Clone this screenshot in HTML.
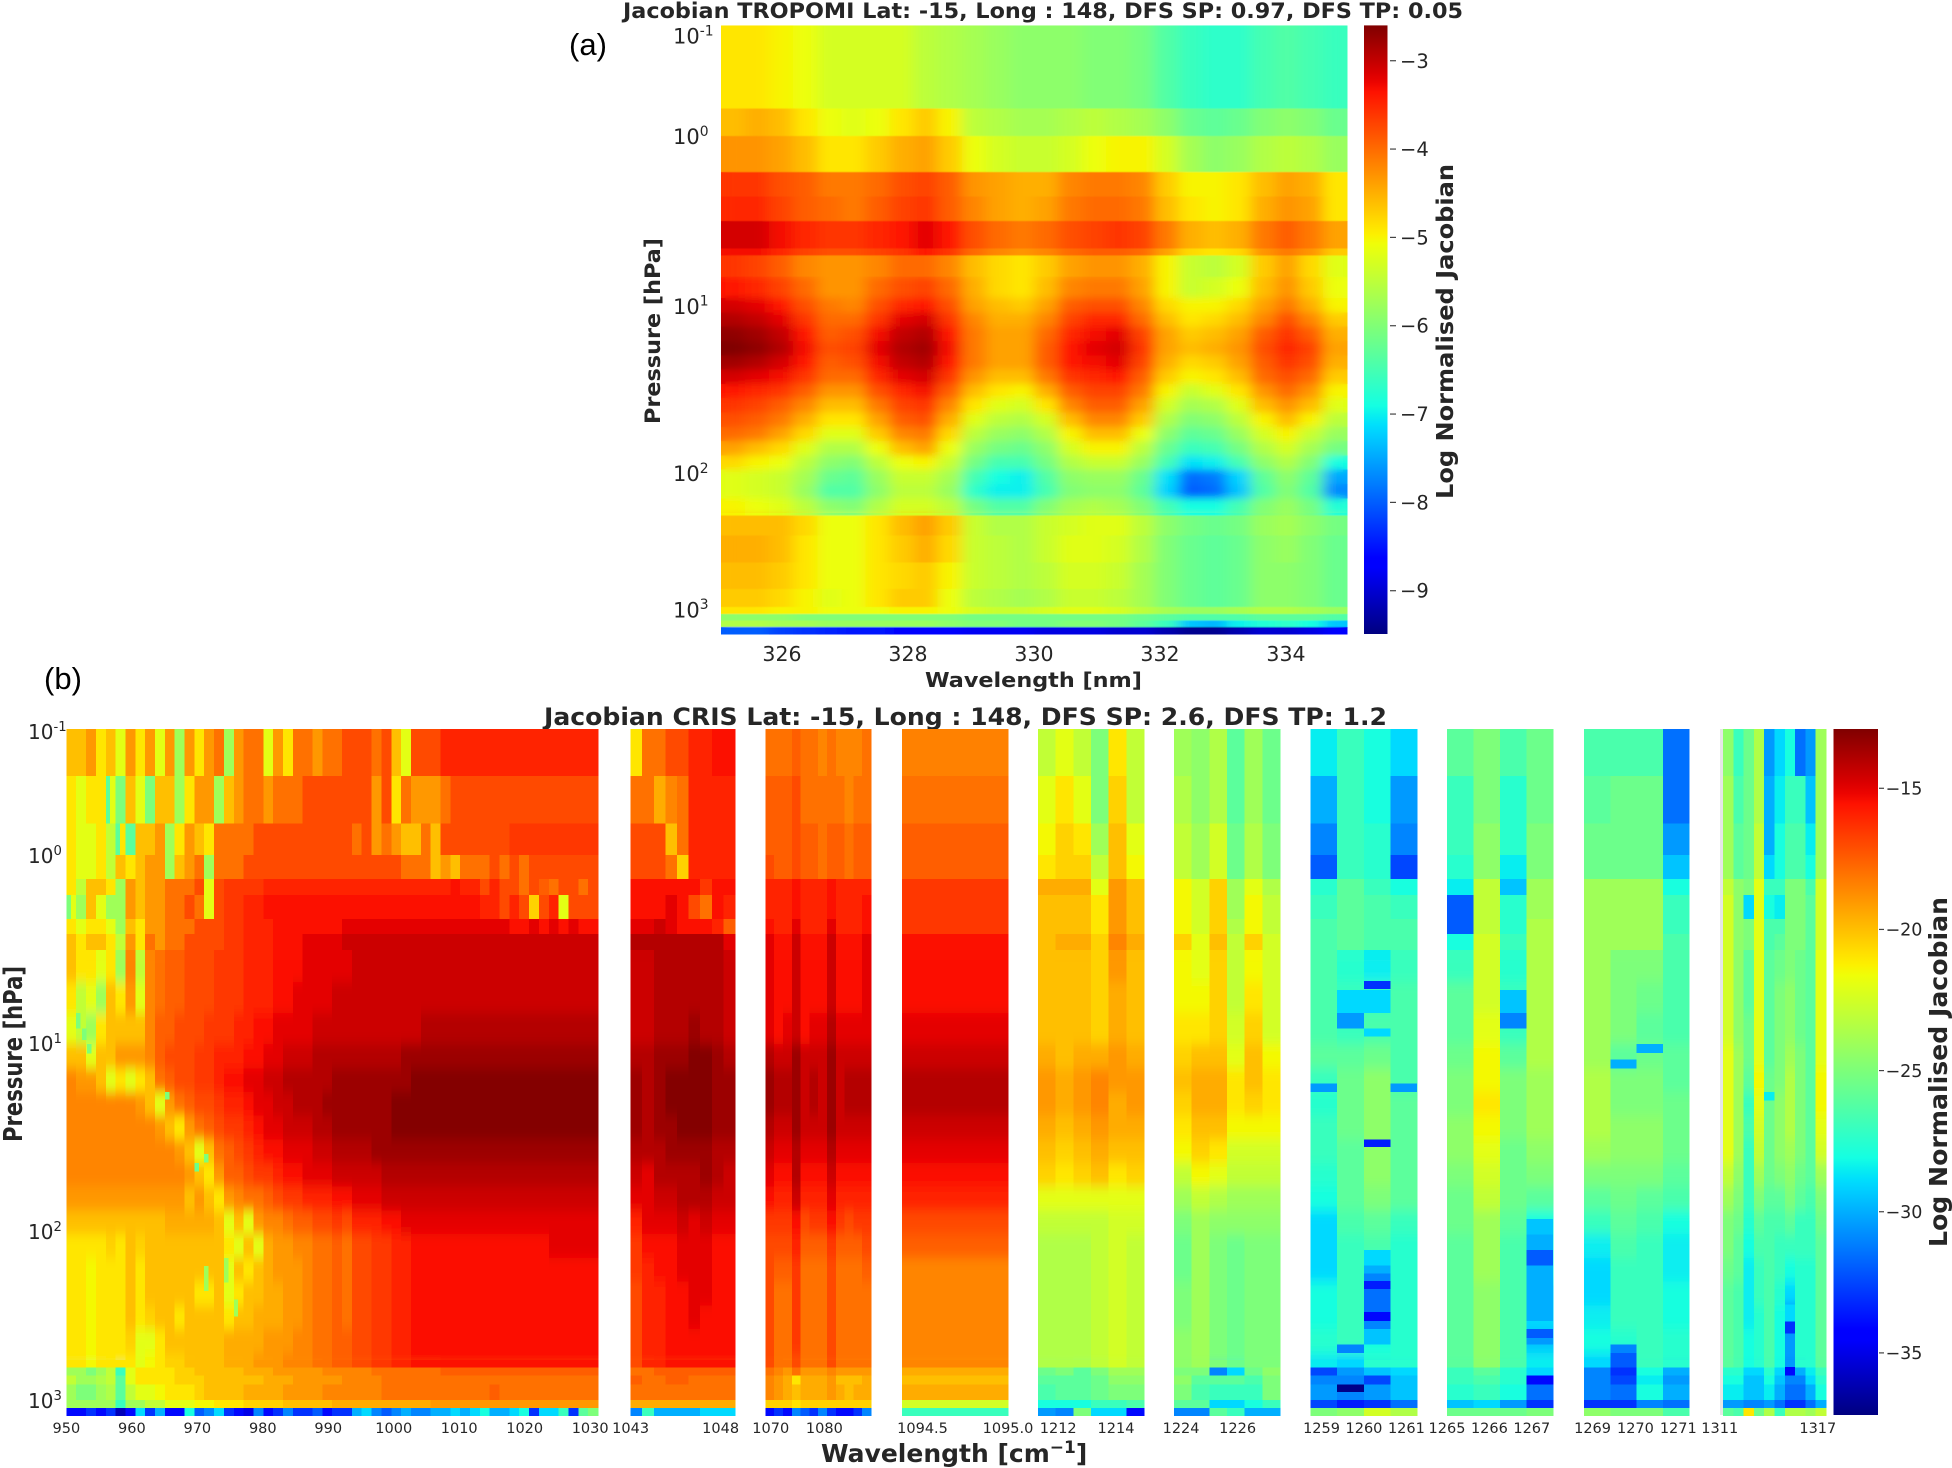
<!DOCTYPE html>
<html lang="en">
<head>
<meta charset="utf-8">
<title>Jacobian TROPOMI and CRIS heatmaps</title>
<style>
html,body{margin:0;padding:0;background:#fff}
svg{display:block}
text{font-family:"DejaVu Sans","Liberation Sans",sans-serif;fill:#262626}
.b{font-weight:700}
</style>
</head>
<body>
<svg id="fig" xmlns="http://www.w3.org/2000/svg" width="1952" height="1468" viewBox="0 0 1952 1468">
<defs>
<filter id="smoothWide" x="-5%" y="-5%" width="110%" height="110%"><feGaussianBlur stdDeviation="7 0.6"/></filter>
<filter id="smoothBoth" x="-5%" y="-5%" width="110%" height="110%"><feGaussianBlur stdDeviation="7 4"/></filter>
<filter id="smoothTall" x="-5%" y="-5%" width="110%" height="110%"><feGaussianBlur stdDeviation="0 6"/></filter>
<clipPath id="clipTropomi"><rect x="721" y="25.4" width="626" height="608.6"/></clipPath>
<clipPath id="clipTropomiFine"><rect x="721" y="277" width="626" height="236"/></clipPath>
<clipPath id="clipCrisFine"><rect x="0" y="960" width="1952" height="400"/></clipPath>
</defs>
<rect width="1952" height="1468" fill="#fff"/>
<text x="569" y="55" style="font-family:'Liberation Sans',sans-serif;font-size:31px;fill:#000">(a)</text>
<text x="44" y="689" style="font-family:'Liberation Sans',sans-serif;font-size:31px;fill:#000">(b)</text>
<text class="b" x="623" y="18" font-size="21" textLength="840" lengthAdjust="spacingAndGlyphs">Jacobian TROPOMI Lat: -15, Long : 148, DFS SP: 0.97, DFS TP: 0.05</text>
<text class="b" x="544" y="725" font-size="24" textLength="843" lengthAdjust="spacingAndGlyphs">Jacobian CRIS Lat: -15, Long : 148, DFS SP: 2.6, DFS TP: 1.2</text>
<text class="b" x="925" y="687" font-size="20" textLength="217" lengthAdjust="spacingAndGlyphs">Wavelength [nm]</text>
<text class="b" transform="translate(660,424) rotate(-90)" font-size="21" textLength="186" lengthAdjust="spacingAndGlyphs">Pressure [hPa]</text>
<text class="b" transform="translate(1453,499) rotate(-90)" font-size="23" textLength="335" lengthAdjust="spacingAndGlyphs">Log Normalised Jacobian</text>
<text class="b" x="821" y="1462" font-size="25">Wavelength [cm<tspan dy="-9" font-size="17">−1</tspan><tspan dy="9">]</tspan></text>
<text class="b" transform="translate(22,1142) rotate(-90)" font-size="26" textLength="176" lengthAdjust="spacingAndGlyphs">Pressure [hPa]</text>
<text class="b" transform="translate(1947,1247) rotate(-90)" font-size="25" textLength="350" lengthAdjust="spacingAndGlyphs">Log Normalised Jacobian</text>
<rect x="1720" y="729" width="3" height="686" fill="#e6e6e6"/>
</svg>
<script>
// ---------- shared tick labels ----------
const pressureTickExponents = [-1, 0, 1, 2, 3];
const tropomiWavelengthTicks = [326, 328, 330, 332, 334];
const tropomiColorbarTicks = [-3, -4, -5, -6, -7, -8, -9];
const crisColorbarTicks = [-15, -20, -25, -30, -35];

// ---------- pressure layer edges (log10 hPa) ----------
const tropomiLayerEdges = [-1.102,-0.276,0,0.211,0.355,0.5,0.663,0.703,0.829,0.955,1.04,1.125,1.211,1.296,1.381,1.467,1.552,1.637,1.723,1.808,1.893,1.979,2.079,2.184,2.311,2.459,2.656,2.852,2.984,3.033,3.082,3.131,3.18];
const crisLayerEdges = [-1.025,-0.646,-0.2625,-0.008,0.123,0.208,0.334,0.416,0.501,0.671,0.836,1,1.129,1.255,1.381,1.507,1.633,1.759,1.885,2.012,2.153,2.294,2.434,2.575,2.716,2.801,2.85,2.902,2.994,3.04,3.086];

// ---------- TROPOMI log normalised Jacobian ----------
const tropomiValues = [
[-4.9,-4.9,-5,-5.1,-5.3,-5.3,-5.3,-5.3,-5.5,-5.6,-5.7,-5.8,-5.9,-5.9,-5.9,-6,-6,-6.1,-6.4,-6.6,-6.7,-6.7,-6.5,-6.4,-6.5,-6.6],
[-4.6,-4.5,-4.6,-4.9,-5.1,-5.2,-5.1,-4.9,-4.7,-5,-5.5,-5.6,-5.7,-5.7,-5.6,-5.5,-5.6,-5.7,-5.9,-6.2,-6.3,-6.2,-6,-5.9,-6,-6.2],
[-4.3,-4.3,-4.4,-4.6,-4.9,-4.9,-4.7,-4.5,-4.4,-4.7,-5.1,-5.3,-5.4,-5.4,-5.3,-5.1,-5,-5,-5.3,-5.7,-5.9,-5.8,-5.6,-5.5,-5.6,-5.8],
[-3.6,-3.6,-3.8,-3.9,-4.1,-4.1,-4,-3.8,-3.7,-3.9,-4.3,-4.4,-4.5,-4.5,-4.2,-4.1,-4.1,-4.2,-4.7,-5,-5,-4.9,-4.6,-4.4,-4.5,-4.9],
[-3.5,-3.5,-3.7,-3.9,-4,-4.1,-3.9,-3.7,-3.6,-3.9,-4.2,-4.4,-4.5,-4.4,-4.1,-4,-4,-4.1,-4.6,-4.9,-5,-4.9,-4.5,-4.3,-4.4,-4.9],
[-3.1,-3.1,-3.3,-3.5,-3.6,-3.6,-3.5,-3.4,-3.2,-3.4,-3.8,-4,-4.1,-4,-3.8,-3.7,-3.6,-3.7,-4.1,-4.5,-4.6,-4.5,-4.1,-3.9,-4.1,-4.4],
[-3.3,-3.3,-3.5,-3.7,-3.8,-3.8,-3.7,-3.6,-3.4,-3.6,-4,-4.2,-4.3,-4.2,-4,-3.9,-3.9,-4,-4.4,-4.8,-4.9,-4.8,-4.3,-4.1,-4.3,-4.7],
[-3.6,-3.7,-3.9,-4.2,-4.3,-4.3,-4.2,-4,-4,-4.2,-4.6,-4.8,-4.9,-4.7,-4.4,-4.3,-4.3,-4.5,-5,-5.4,-5.5,-5.3,-4.7,-4.4,-4.8,-5.2],
[-3.4,-3.5,-3.7,-4,-4.3,-4.3,-4,-3.8,-3.7,-4,-4.5,-4.8,-4.9,-4.6,-4.2,-4.1,-4.1,-4.4,-5,-5.4,-5.3,-5.1,-4.6,-4.3,-4.7,-5.1],
[-3.1,-3.2,-3.4,-3.8,-4.1,-4.2,-3.8,-3.5,-3.4,-3.8,-4.4,-4.6,-4.7,-4.4,-3.9,-3.8,-3.8,-4.2,-4.8,-5,-5,-4.8,-4.4,-4.1,-4.5,-5],
[-2.9,-3,-3.2,-3.6,-4,-4,-3.6,-3.2,-3.1,-3.6,-4.2,-4.5,-4.5,-4.2,-3.7,-3.5,-3.5,-4,-4.6,-4.9,-4.8,-4.6,-4.2,-3.8,-4.2,-4.7],
[-2.7,-2.8,-3,-3.4,-3.9,-3.8,-3.3,-3,-2.9,-3.4,-4.1,-4.4,-4.4,-4,-3.5,-3.3,-3.2,-3.7,-4.4,-4.7,-4.6,-4.4,-3.9,-3.6,-3.9,-4.5],
[-2.6,-2.7,-2.9,-3.3,-3.8,-3.7,-3.2,-2.9,-2.8,-3.3,-4.1,-4.4,-4.4,-3.9,-3.4,-3.2,-3.1,-3.6,-4.4,-4.6,-4.5,-4.3,-3.8,-3.5,-3.7,-4.4],
[-2.8,-2.9,-3.1,-3.4,-3.9,-3.8,-3.3,-3,-2.9,-3.4,-4.1,-4.4,-4.4,-3.9,-3.4,-3.3,-3.2,-3.7,-4.5,-4.8,-4.7,-4.4,-3.9,-3.6,-3.8,-4.5],
[-3.1,-3.2,-3.3,-3.6,-4,-4,-3.5,-3.2,-3.1,-3.6,-4.3,-4.6,-4.6,-4.1,-3.6,-3.5,-3.4,-3.9,-4.7,-5,-4.9,-4.6,-4,-3.8,-4,-4.7],
[-3.4,-3.5,-3.6,-3.9,-4.3,-4.3,-3.8,-3.5,-3.3,-3.9,-4.6,-4.9,-5,-4.5,-3.9,-3.7,-3.7,-4.1,-5,-5.4,-5.2,-4.9,-4.3,-4,-4.3,-5],
[-3.6,-3.7,-3.9,-4.2,-4.6,-4.6,-4.1,-3.7,-3.6,-4.2,-4.9,-5.2,-5.3,-4.9,-4.2,-3.9,-3.9,-4.4,-5.3,-5.7,-5.6,-5.2,-4.6,-4.3,-4.6,-5.2],
[-3.8,-3.9,-4.1,-4.5,-4.9,-4.9,-4.4,-3.9,-3.8,-4.5,-5.2,-5.5,-5.6,-5.3,-4.6,-4.2,-4.2,-4.7,-5.6,-6,-5.9,-5.5,-5,-4.6,-5,-5.5],
[-4,-4.1,-4.4,-4.8,-5.2,-5.2,-4.7,-4.2,-4.1,-4.8,-5.5,-5.8,-5.9,-5.6,-5,-4.6,-4.6,-5.1,-5.9,-6.3,-6.2,-5.8,-5.3,-5,-5.4,-5.8],
[-4.4,-4.6,-4.8,-5.2,-5.6,-5.6,-5.1,-4.6,-4.4,-5.1,-5.8,-6.1,-6.2,-5.9,-5.3,-5,-5,-5.5,-6.2,-6.6,-6.5,-6.1,-5.6,-5.3,-5.7,-6.1],
[-4.8,-5,-5.1,-5.5,-5.9,-6,-5.5,-5.1,-5,-5.4,-6.1,-6.5,-6.5,-6.1,-5.6,-5.4,-5.4,-5.8,-6.5,-7.1,-7,-6.5,-5.9,-5.6,-6,-6.9],
[-5.2,-5.3,-5.4,-5.7,-6.2,-6.3,-5.8,-5.4,-5.4,-5.7,-6.5,-6.9,-7,-6.4,-5.9,-5.8,-5.8,-6.2,-7.1,-7.9,-7.8,-7.2,-6.3,-5.9,-6.3,-7.5],
[-5.2,-5.3,-5.4,-5.8,-6.4,-6.4,-5.9,-5.5,-5.5,-5.8,-6.7,-7,-7,-6.5,-6,-5.9,-5.9,-6.3,-7.2,-8,-7.9,-7.3,-6.4,-6,-6.4,-7.7],
[-5,-5.1,-5.2,-5.5,-5.9,-6,-5.6,-5.3,-5.3,-5.5,-6.1,-6.4,-6.4,-6,-5.7,-5.6,-5.7,-6,-6.5,-6.9,-6.9,-6.5,-6,-5.8,-6.1,-6.8],
[-4.6,-4.6,-4.6,-4.8,-5.1,-5.1,-4.9,-4.6,-4.4,-4.7,-5.4,-5.6,-5.6,-5.4,-5.3,-5.2,-5.2,-5.5,-5.9,-6.1,-6.2,-6.1,-5.8,-5.7,-5.9,-6.1],
[-4.5,-4.5,-4.6,-4.9,-5.1,-5.1,-4.9,-4.7,-4.5,-4.8,-5.4,-5.5,-5.6,-5.4,-5.2,-5.2,-5.3,-5.6,-6,-6.2,-6.3,-6.2,-5.9,-5.8,-6,-6.2],
[-4.6,-4.6,-4.7,-4.9,-5.1,-5.1,-4.9,-4.8,-4.7,-5,-5.4,-5.5,-5.6,-5.5,-5.3,-5.3,-5.4,-5.7,-6,-6.2,-6.3,-6.2,-5.9,-5.9,-6,-6.2],
[-4.7,-4.7,-4.8,-5,-5.2,-5.1,-4.9,-4.7,-4.7,-5.1,-5.5,-5.6,-5.7,-5.6,-5.4,-5.4,-5.5,-5.7,-6,-6.2,-6.3,-6.2,-5.9,-5.9,-6,-6.2],
[-4.9,-4.9,-5,-5,-5.1,-5.1,-5.1,-5,-5,-5.1,-5.3,-5.4,-5.4,-5.3,-5.2,-5.2,-5.3,-5.5,-5.7,-5.8,-5.8,-5.7,-5.6,-5.6,-5.7,-5.8],
[-5.9,-5.9,-5.9,-6,-6,-6,-6,-6,-6,-6,-6.1,-6.1,-6.1,-6.1,-6.1,-6.1,-6.1,-6.2,-6.3,-6.4,-6.4,-6.4,-6.3,-6.3,-6.3,-6.4],
[-5.6,-5.6,-5.7,-5.7,-5.8,-5.8,-5.8,-5.8,-5.8,-5.9,-6,-6,-6.1,-6.1,-6,-6,-6.1,-6.3,-6.6,-7.3,-7.4,-7,-6.8,-6.7,-6.9,-7.3],
[-8,-8,-8.2,-8.3,-8.4,-8.5,-8.5,-8.6,-8.6,-8.7,-8.8,-8.8,-8.8,-8.9,-8.9,-8.9,-9,-9,-9.2,-9.4,-9.4,-9.2,-9,-9,-8.9,-8.7]
];

// ---------- CRIS band tick labels ----------
const band1Ticks = [950,960,970,980,990,1000,1010,1020,1030];
const band2Ticks = [1043,1048];
const band3Ticks = [1070,1080];
const band4Ticks = [1094.5,1095.0];
const band5Ticks = [1212,1214];
const band6Ticks = [1224,1226];
const band7Ticks = [1259,1260,1261];
const band8Ticks = [1265,1266,1267];
const band9Ticks = [1269,1270,1271];
const band10Ticks = [1311,1317];

// ---------- CRIS values per spectral window (rows: top to bottom) ----------
const band1Values = [
[-20,-20,-19,-21,-20,-22,-19,-21,-19, -22,-19,-24,-19,-21,-19,-18,-24,-19, -18,-18,-22,-19,-21,-18,-18,-19,-18, -18,-17,-17,-17,-18,-17,-20,-22,-17, -17,-17,-16,-16,-16,-16,-16,-16,-16, -16,-16,-16,-16,-16,-16,-16,-16,-16],
[-21,-22,-21,-21,-22,-25,-20,-22,-25, -20,-20,-24,-21,-19,-19,-24,-20,-19, -18,-18,-19,-18,-18,-18,-17,-17,-17, -17,-17,-17,-17,-19,-17,-21,-18,-19, -19,-19,-18,-17,-17,-17,-17,-17,-17, -17,-17,-17,-17,-17,-17,-17,-17,-17],
[-21,-22,-22,-21,-23,-21,-26,-20,-20, -19,-24,-21,-19,-20,-21,-18,-18,-18, -18,-17,-17,-17,-17,-17,-17,-17,-17, -17,-17,-18,-17,-19,-18,-19,-20,-20, -18,-20,-17,-17,-17,-17,-17,-17,-17, -16.5,-16.5,-16.5,-16.5,-16.5,-16.5,-16.5,-16.5,-16.5],
[-21,-22,-22,-21,-23,-20,-21,-20,-19, -19,-24,-20,-19,-18,-24,-18,-18,-18, -17,-17,-17,-17,-17,-17,-17,-17,-17, -17,-17,-17,-17,-17,-17,-17,-18,-18, -18,-20,-19,-20,-18,-18,-18,-17,-18, -17,-18,-17,-17,-17,-17,-17,-17,-17],
[-21,-23,-20,-20,-21,-24,-19,-20,-19, -19,-18,-18,-18,-17,-22,-17,-16.5,-16.5, -16.5,-16.5,-16,-16,-16,-16,-16,-16,-16, -16,-16,-16,-16,-16,-16,-16,-16,-16, -16,-16,-16,-15.5,-16,-16,-17,-16,-17, -17,-18,-17,-17.5,-18,-17,-17,-18,-17],
[-22,-24,-20,-22,-24,-24,-19,-20,-19, -19,-18,-18,-17,-18,-22,-17,-16.5,-16.5, -16,-16,-15.5,-15.5,-15.5,-15.5,-15.5,-15.5,-15.5, -15.5,-15.5,-15.5,-15.5,-15.5,-15.5,-15.5,-15.5,-15.5, -15.5,-15.5,-15.5,-15.5,-15.5,-15.5,-16,-16,-17, -16,-17,-20.5,-17,-16,-22,-17,-17,-17],
[-21,-22,-21,-21,-22,-24,-20,-21,-19, -19,-18,-18,-18,-17,-17,-17,-16.5,-16.5, -16,-16,-16,-15.5,-15.5,-15.5,-15.5,-15.5,-15.5, -15.5,-15,-15,-15,-15,-15,-15,-15,-15, -15,-15,-15,-15,-15,-15,-15,-15,-15, -15.5,-15.5,-15,-15.5,-15,-15.5,-15,-15.5,-15.5],
[-20,-21,-20,-20,-21,-23,-19,-21,-18, -19,-18,-18,-17,-17,-17,-17,-16.5,-16.5, -16,-16,-16,-15.5,-15.5,-15.5,-15,-15,-15, -15,-14.5,-14.5,-14.5,-14.5,-14.5,-14.5,-14.5,-14.5, -14.5,-14.5,-14.5,-14.5,-14.5,-14.5,-14.5,-14.5,-14.5, -14.5,-14.5,-14.5,-14.5,-14.5,-14.5,-14.5,-14.5,-14.5],
[-20,-21,-21,-22,-21,-24,-18.5,-23,-18.5, -18,-17.5,-17.5,-17,-17,-17,-16.5,-16.5,-16.5, -16,-16,-16,-15.5,-15.5,-15.5,-15,-15,-15, -15,-15,-14.5,-14.5,-14.5,-14.5,-14.5,-14.5,-14.5, -14.5,-14.5,-14.5,-14.5,-14.5,-14.5,-14.5,-14.5,-14.5, -14.5,-14.5,-14.5,-14.5,-14.5,-14.5,-14.5,-14.5,-14.5],
[-21,-23,-22,-24,-20,-21,-19,-22,-18.5, -18,-17.5,-17.5,-17,-17,-17,-16.5,-16.5,-16.5, -16,-16,-16,-15.5,-15.5,-15,-15,-15,-15, -14.5,-14.5,-14.5,-14.5,-14.5,-14.5,-14.5,-14.5,-14.5, -14.5,-14.5,-14.5,-14.5,-14.5,-14.5,-14.5,-14.5,-14.5, -14.5,-14.5,-14.5,-14.5,-14.5,-14.5,-14.5,-14.5,-14.5],
[-22,-23,-24,-21,-20,-20,-20,-20,-18.5, -17.5,-17.5,-17,-17,-17,-16.5,-16.5,-16.5,-16, -16,-15.5,-15.5,-15,-15,-15,-15,-14.5,-14.5, -14.5,-14.5,-14.5,-14.5,-14.5,-14.5,-14.5,-14.5,-14.5, -14,-14,-14,-14,-14,-14,-14,-14,-14, -14,-14,-14,-14,-14,-14,-14,-14,-14],
[-20,-20,-22,-20,-20,-19,-19,-19,-18.5, -17.5,-17,-17,-17,-16.5,-16.5,-16,-16,-16, -15.5,-15.5,-15,-15,-14.5,-14.5,-14.5,-14,-14, -14,-14,-14,-14,-14,-14,-14,-13.5,-13.5, -13.5,-13.5,-13.5,-13.5,-13.5,-13.5,-13.5,-13.5,-13.5, -13.5,-13.5,-13.5,-13.5,-13.5,-13.5,-13.5,-13.5,-13.5],
[-18.5,-19,-19,-20,-22,-21,-22,-21,-20, -18,-17.5,-17,-17,-16.5,-16.5,-16,-15.5,-15.5, -15,-15,-14.5,-14.5,-14,-14,-14,-14,-14, -13.5,-13.5,-13.5,-13.5,-13.5,-13.5,-13.5,-13.5,-13, -13,-13,-13,-13,-13,-13,-13,-13,-13, -13,-13,-13,-13,-13,-13,-13,-13,-13],
[-18.5,-18.5,-18.5,-18.5,-18.5,-18.5,-18.5,-19,-20, -22,-19,-18,-17.5,-17,-17,-16.5,-16,-16, -15.5,-15,-15,-14.5,-14.5,-14,-14,-14,-13.5, -13.5,-13.5,-13.5,-13.5,-13.5,-13.5,-13,-13,-13, -13,-13,-13,-13,-13,-13,-13,-13,-13, -13,-13,-13,-13,-13,-13,-13,-13,-13],
[-18.5,-18.5,-18.5,-18.5,-18.5,-18.5,-18.5,-18.5,-18.5, -19,-20,-21,-19,-18,-17.5,-17,-16.5,-16.5, -16,-15.5,-15,-15,-14.5,-14.5,-14.5,-14,-14, -13.5,-13.5,-13.5,-13.5,-13.5,-13.5,-13,-13,-13, -13,-13,-13,-13,-13,-13,-13,-13,-13, -13,-13,-13,-13,-13,-13,-13,-13,-13],
[-18.5,-18.5,-18.5,-18.5,-18.5,-18.5,-18.5,-18.5,-18.5, -18.5,-18.5,-19,-20,-22,-20,-18,-17.5,-17, -16.5,-16,-15.5,-15.5,-15,-15,-15,-14.5,-14.5, -14,-14,-14,-14,-13.5,-13.5,-13.5,-13.5,-13.5, -13.5,-13.5,-13.5,-13.5,-13.5,-13.5,-13.5,-13.5,-13.5, -13.5,-13.5,-13.5,-13.5,-13.5,-13.5,-13.5,-13.5,-13.5],
[-18.5,-18.5,-18.5,-18.5,-18.5,-18.5,-18.5,-18.5,-18.5, -18.5,-18.5,-18.5,-19,-20,-21,-19,-17.5,-17.5, -17,-16.5,-16.5,-16,-15.5,-15.5,-15,-15,-15, -14.5,-14.5,-14.5,-14.5,-14.5,-14,-14,-14,-14, -14,-14,-14,-14,-14,-14,-14,-14,-14, -14,-14,-14,-14,-14,-14,-14,-14,-14],
[-19,-19,-19,-19,-19,-19,-19,-19,-19, -19,-19,-19,-20,-19,-20,-21,-19,-18.5, -18,-18,-17.5,-17,-16.5,-16.5,-16,-16,-16, -15.5,-15.5,-15,-15,-15,-14.5,-14.5,-14.5,-14.5, -14.5,-14.5,-14.5,-14.5,-14.5,-14.5,-14.5,-14.5,-14.5, -14.5,-14.5,-14.5,-14.5,-14.5,-14.5,-14.5,-14.5,-14.5],
[-20,-20,-20,-20,-20,-20,-20,-20,-20, -20,-19.5,-19.5,-19.5,-19.5,-19.5,-20,-22,-20, -22,-19,-18.5,-18.5,-18,-17.5,-17.5,-17,-17, -16.5,-17,-16,-16,-16,-15.5,-15.5,-15,-15, -15,-15,-15,-15,-15,-15,-15,-15,-15, -15,-15,-15,-15,-15,-15,-15,-15,-15],
[-21,-21,-21,-21,-20.5,-21,-20,-20.5,-20, -20,-20,-20,-20,-20,-20,-20,-21,-22, -20,-22,-19.5,-19,-19,-18.5,-18.5,-18,-18, -17.5,-18,-17,-17,-16.5,-16.5,-16,-16,-15.5, -15.5,-15.5,-15.5,-15.5,-15.5,-15.5,-15.5,-15.5,-15.5, -15.5,-15.5,-15.5,-15.5,-15,-15,-15,-15,-15],
[-21,-21,-21.5,-21,-21,-21,-20,-21,-20, -20,-20,-20,-20,-20,-20,-20,-22,-20, -21,-20,-19.5,-19,-19,-19,-18.5,-18,-18, -17.5,-18,-17,-17,-16.5,-16.5,-16,-16,-15.5, -15.5,-15.5,-15.5,-15.5,-15.5,-15.5,-15.5,-15.5,-15.5, -15.5,-15.5,-15.5,-15.5,-15.5,-15.5,-15.5,-15.5,-15.5],
[-21,-21,-21.5,-21,-21,-21,-20,-21,-20, -20,-20,-20,-20,-21,-21,-20,-22,-21, -20,-20,-19.5,-19.5,-19,-19,-18.5,-18,-18, -17.5,-18,-17,-17,-16.5,-16.5,-16,-16,-15.5, -15.5,-15.5,-15.5,-15.5,-15.5,-15.5,-15.5,-15.5,-15.5, -15.5,-15.5,-15.5,-15.5,-15.5,-15.5,-15.5,-15.5,-15.5],
[-21,-21,-21.5,-21,-21,-21,-20,-21,-20.5, -20,-20,-21,-20,-20,-20,-20,-21,-20, -20,-19.5,-19.5,-19.5,-19,-19,-18.5,-18,-18, -17.5,-18,-17,-17,-16.5,-16.5,-16,-16,-15.5, -15.5,-15.5,-15.5,-15.5,-15.5,-15.5,-15.5,-15.5,-15.5, -15.5,-15.5,-15.5,-15.5,-15.5,-15.5,-15.5,-15.5,-15.5],
[-21,-21,-21.5,-21,-21,-21,-20.5,-22,-22, -21,-20,-20,-20,-20,-20,-20,-19.5,-19.5, -19.5,-19.5,-19,-19,-19,-18.5,-18.5,-18,-18, -17.5,-17.5,-17,-17,-16.5,-16.5,-16,-16,-15.5, -15.5,-15.5,-15.5,-15.5,-15.5,-15.5,-15.5,-15.5,-15.5, -15.5,-15.5,-15.5,-15.5,-15.5,-15.5,-15.5,-15.5,-15.5],
[-21,-21,-21.5,-21,-21,-21,-21,-22,-21.5, -21,-20.5,-20.5,-20,-20,-20,-20,-19.5,-19.5, -19.5,-19,-19,-19,-18.5,-18.5,-18.5,-18,-18, -17.5,-17.5,-17,-17,-16.5,-16.5,-16,-16,-15.5, -15.5,-15.5,-15.5,-15.5,-15.5,-15.5,-15.5,-15.5,-15.5, -15.5,-15.5,-15.5,-15.5,-15.5,-15.5,-15.5,-15.5,-15.5],
[-24,-24,-25,-24,-23,-27,-22,-21,-21, -21,-21,-20.5,-20.5,-20,-20,-20,-20,-20, -19.5,-19.5,-19.5,-19,-19,-19,-19,-19,-18.5, -18.5,-18.5,-18.5,-18.5,-18,-18,-18,-18,-18, -18,-18,-17.5,-17.5,-17.5,-17.5,-17.5,-17.5,-17.5, -17.5,-17.5,-17.5,-17.5,-17.5,-17.5,-17.5,-17.5,-17.5],
[-23,-24,-24,-23.5,-23,-26,-22,-21,-21, -21,-21,-20.5,-20.5,-20.5,-20,-20,-20,-20, -20,-20,-19.5,-19.5,-19.5,-19,-19,-19,-19, -19,-18.5,-18.5,-18.5,-18.5,-18,-18,-18,-18, -18,-18,-18,-18,-18,-18,-18,-18,-18, -18,-18,-18,-18,-18,-18,-18,-18,-18],
[-24,-25,-25,-24,-23.5,-26,-23,-22,-22, -21.5,-21,-21,-21,-20.5,-20,-20,-20,-20, -19.5,-19.5,-19.5,-19.5,-19,-19,-19,-19,-18.5, -18.5,-18.5,-18.5,-18.5,-18.5,-18,-18,-18,-18, -18,-18,-18,-18,-18,-18,-18,-17.5,-18, -18,-18,-18,-18,-18,-18,-18,-18,-18],
[-24,-24,-24,-24,-24,-27,-24,-24,-23, -23,-22,-22,-22,-21.5,-21.5,-21,-21,-21, -20.5,-20.5,-20.5,-20.5,-20,-20,-20,-20,-20, -19.5,-19.5,-19.5,-19.5,-19.5,-19.5,-19.5,-19.5,-19.5, -19.5,-19,-19,-19,-19,-19,-19,-19,-19, -19,-19,-19,-19,-19,-19,-19,-19,-19],
[-34,-34,-33,-34,-33,-36,-34,-29,-33, -30,-34,-34,-28,-32,-31,-29,-33,-34, -35,-31,-34,-33,-31,-33,-33,-32,-34, -33,-33,-30,-29,-31,-32,-31,-30,-31, -31,-30,-30,-29,-30,-29,-28,-30,-30, -29,-28,-33,-29,-29,-27,-33,-26,-25]
];
const band2Values = [
[-21,-18,-18,-17,-17,-16,-16,-15.5,-15.5],
[-18,-18,-19.5,-18.5,-18,-16,-16,-16,-16],
[-17,-17,-17,-20,-18,-16,-16,-16,-16],
[-17,-17,-17,-18,-20.5,-16,-16,-16,-16],
[-15.5,-15.5,-15.5,-15.5,-15.5,-15.5,-16.5,-15.5,-15.5],
[-15.5,-15.5,-15.5,-15,-15.5,-17,-18,-15.5,-16],
[-15,-15,-14.5,-15,-15.5,-15.5,-15.5,-16,-17.5],
[-14,-14,-14,-14,-14,-14,-14,-14,-15],
[-14.5,-14.5,-14,-14,-14,-14,-14,-14,-14.5],
[-14.5,-14.5,-14,-14,-14,-14,-14,-14,-14.5],
[-14.5,-14.5,-14,-14,-14,-13.5,-14,-14,-14.5],
[-14,-14,-13.5,-13.5,-13.5,-13,-13,-13.5,-14],
[-13.5,-14,-13.5,-13,-13,-13,-13,-13.5,-13.5],
[-13.5,-14,-13.5,-13,-13,-13,-13,-13.5,-13.5],
[-13.5,-14,-13.5,-13.5,-13,-13,-13,-13.5,-13.5],
[-14,-14,-14,-13.5,-13.5,-13.5,-13.5,-14,-14],
[-14.5,-15,-14,-14,-14,-14,-13.5,-14,-14.5],
[-15,-15,-14.5,-14.5,-14,-14,-14,-14.5,-14.5],
[-16,-15,-15,-15,-14.5,-15,-14.5,-15,-15],
[-16.5,-15.5,-15.5,-15.5,-15,-15,-15,-15.5,-15.5],
[-16.5,-16,-15.5,-15.5,-15,-15,-15,-15.5,-15.5],
[-17,-16,-16,-15.5,-15.5,-15,-15,-15.5,-15.5],
[-17,-16,-16,-15.5,-15.5,-15,-15.5,-15.5,-15.5],
[-17,-16,-16,-15.5,-15.5,-15.5,-15.5,-15.5,-15.5],
[-17,-16,-16,-15.5,-15.5,-15.5,-15.5,-15.5,-15.5],
[-18,-18,-17.5,-17.5,-17.5,-17.5,-17.5,-17.5,-17.5],
[-17.5,-18,-18,-17.5,-17.5,-18,-18,-18,-18],
[-18,-18,-18,-18,-18,-18,-18,-18,-18],
[-19.5,-19.5,-19.5,-19.5,-19.5,-19.5,-19.5,-19.5,-19.5],
[-31,-27,-30,-30,-30,-30,-29,-29,-29]
];
const band3Values = [
[-18,-18,-18,-17.5,-18,-18,-18.5,-18,-18.5,-18.5,-18.5,-18],
[-17.5,-17.5,-17.5,-17,-18,-18,-18,-18,-18,-18.5,-18,-18],
[-17.5,-17.5,-17.5,-17,-17.5,-17.5,-18,-17.5,-17.5,-18,-17.5,-17.5],
[-17,-17.5,-17.5,-17,-17.5,-17.5,-18,-17.5,-17.5,-18,-17.5,-17.5],
[-16,-16,-16,-15.5,-16,-16,-16,-15.5,-16,-16,-16,-16],
[-16,-16,-16,-15.5,-16,-16,-16,-15.5,-16,-16,-16,-15.5],
[-15.5,-16,-16,-15,-16,-16,-16,-15,-16,-16,-16,-15.5],
[-15,-15.5,-15.5,-14.5,-15.5,-15.5,-15.5,-14.5,-15.5,-15.5,-15.5,-15],
[-15,-15.5,-15.5,-14.5,-15.5,-15.5,-15.5,-14.5,-15.5,-15.5,-15.5,-15],
[-15,-15.5,-15.5,-14.5,-15.5,-15.5,-15.5,-14.5,-15.5,-15.5,-15.5,-15],
[-15,-15.5,-15,-14.5,-15.5,-15,-15,-14,-15,-15,-15,-15],
[-14,-14.5,-14.5,-13.5,-14.5,-14.5,-14.5,-13.5,-14.5,-14.5,-14.5,-14.5],
[-13.5,-14,-14,-13.5,-14.5,-14,-14.5,-13.5,-14.5,-14,-14,-14],
[-13.5,-14,-14,-13.5,-14.5,-14,-14.5,-13.5,-14.5,-14,-14,-14],
[-14,-14.5,-14.5,-13.5,-14.5,-14.5,-14.5,-13.5,-14.5,-14.5,-14.5,-14.5],
[-14.5,-15,-15,-14,-15,-15,-15,-14,-15,-15,-15,-15],
[-15,-15.5,-15.5,-14,-15.5,-15.5,-15.5,-14.5,-15.5,-15.5,-15.5,-15.5],
[-15.5,-16,-16,-14.5,-16,-16,-16,-15,-16,-16,-16,-16],
[-16.5,-16.5,-16.5,-15.5,-17,-16.5,-16.5,-15.5,-16.5,-17,-16.5,-16.5],
[-17,-17,-17,-16,-17.5,-17.5,-17.5,-16.5,-17.5,-17.5,-17.5,-17],
[-17,-17.5,-17.5,-16.5,-18,-18,-18,-17,-18,-18,-18,-17.5],
[-17,-18,-18,-16.5,-18,-18,-18,-17,-18,-18,-18,-18],
[-17,-18,-18,-16.5,-18,-18,-18,-17,-18,-18,-18,-18],
[-17,-18,-18,-16.5,-18,-18,-18,-17,-18,-18,-18,-18],
[-17,-18,-18,-17,-18,-18,-18,-17,-18,-18,-18,-18],
[-18,-18.5,-19,-18,-19,-19,-19,-18.5,-19,-19,-19,-19],
[-18.5,-19,-19.5,-21,-19.5,-19.5,-19.5,-19,-20,-20,-20,-19.5],
[-18.5,-19,-19.5,-20,-19.5,-19.5,-19.5,-19,-19.5,-20,-19.5,-19.5],
[-20.5,-20.5,-20.5,-21,-20.5,-20.5,-20.5,-20.5,-20.5,-20.5,-20.5,-20.5],
[-34,-33,-34,-31,-32,-33,-31,-33,-34,-34,-33,-31]
];
const band4Values = [[-18.4],[-18],[-17.5],[-17.5],[-16.5],[-16.5],[-16.5],[-15.5],[-15.5],[-15.5],[-15],[-14.5],[-14],[-14],[-14.5],[-15],[-15.5],[-16],[-17],[-17.5],[-18.5],[-18.5],[-18.5],[-18.5],[-18.5],[-19.5],[-20],[-19.5],[-22.5],[-27]];
const band5Values = [
[-23,-22,-23,-25,-21,-23],[-22,-21,-22,-25,-20.5,-23],[-21.5,-20.5,-21,-24,-20,-22],[-21,-20.5,-20.5,-23,-20,-21.5],
[-19.5,-19.5,-19.5,-22,-19,-20],[-20,-20,-20,-21,-19,-20],[-20,-20,-20,-21,-19,-20],[-20,-19.5,-19.5,-20.5,-18.5,-19.5],
[-20,-20,-20,-20.5,-19,-20],[-20,-20,-20,-20.5,-19.5,-20],[-20,-20,-20,-20.5,-19.5,-20],[-19.5,-20,-19.5,-19.5,-19,-19.5],
[-19,-19.5,-19,-18.5,-19,-19],[-19,-19.5,-19,-18.5,-19.5,-19],[-19.5,-20,-19.5,-19,-19.5,-19.5],[-20,-20.5,-20,-19.5,-20,-20],
[-20.5,-21,-20.5,-20,-21,-20.5],[-22,-22,-22,-22,-22,-22],[-23,-23,-23,-23,-22.5,-22.5],[-23.5,-23.5,-23.5,-23,-22.5,-23],
[-23.5,-23.5,-23.5,-23,-22.5,-23],[-23.5,-23.5,-23.5,-23,-22.5,-23],[-23.5,-23.5,-23.5,-23,-22.5,-23],[-23.5,-23.5,-23.5,-23,-22.5,-23],
[-23.5,-23.5,-23.5,-23,-22.5,-23],[-25.5,-25,-26,-25,-24,-24],[-26,-26,-26,-25.5,-24.5,-24.5],[-26.5,-26,-26,-25.5,-25,-25],
[-28,-28,-28,-27,-27,-26.5],[-30.5,-31,-25,-29,-29,-34]
];
const band6Values = [
[-24,-24.5,-23.5,-26,-24,-25.5],[-23.5,-24.5,-23.5,-26,-24,-25.5],[-23,-24,-22.5,-25.5,-23.5,-25],[-23,-24,-22.5,-25.5,-23.5,-25],
[-21.5,-22.5,-20.5,-24,-22,-23.5],[-21.5,-22.5,-20.5,-24,-21.5,-23],[-21.5,-22.5,-20.5,-23.5,-21.5,-23],[-20.5,-22,-20,-23,-20.5,-22.5],
[-21.5,-22,-20.5,-23,-21.5,-22.5],[-21.5,-21.5,-20.5,-23,-21,-22.5],[-21,-21,-20.5,-22.5,-20.5,-22.5],[-20.5,-20,-20,-22,-20,-21.5],
[-20,-19.5,-19.5,-21,-20,-21],[-20.5,-19.5,-19.5,-21,-20.5,-21],[-21,-20,-20,-21.5,-21.5,-21.5],[-21.5,-20.5,-21,-22.5,-22.5,-22.5],
[-23,-21.5,-22,-23,-23,-23],[-24,-23,-23.5,-24,-24,-24],[-25,-24,-24.5,-24.5,-24.5,-24.5],[-25.5,-24,-25,-25.5,-25,-25],
[-25.5,-24,-25,-25.5,-25,-25],[-25,-24,-25,-25.5,-25,-25],[-25,-24,-25,-25.5,-25,-25],[-24.5,-24,-25,-25.5,-25,-25],
[-24.5,-24,-25,-25.5,-25,-25],[-25,-25,-31,-29,-25.5,-24.5],[-24.5,-26,-26,-26,-26.5,-25],[-25,-26.5,-27,-27,-27,-25],
[-26,-26,-29,-29,-28,-27],[-31,-31,-26,-27,-30,-30]
];
const band7Values = [
[-28.5,-27,-28,-29],[-30,-27,-28,-30.5],[-31,-27,-27.5,-31],[-32,-27,-27.5,-32.5],
[-27.5,-26,-27,-28],[-27,-26,-26.5,-27],[-26.5,-26,-26.5,-26.5],[-26.5,-26,-26.5,-26.5],
[-26.5,-27.5,-28.5,-27],[-26.5,-27,-27,-26.5],[-26.5,-27,-26.5,-26.5],[-26,-26,-25.5,-26.5],
[-27,-25.5,-24.5,-26.5],[-27.5,-25.5,-24.5,-26],[-27,-25.5,-24.5,-26],[-27,-26,-24.5,-26],
[-27.5,-26,-24.5,-26],[-28,-26,-25,-26],[-29,-26.5,-26,-27],[-29,-27,-26.5,-27.5],
[-29,-27,-28,-27.5],[-28,-27,-27.5,-27.5],[-28,-27,-27.5,-27.5],[-27.5,-27,-28,-27.5],
[-28.5,-29,-27.5,-27.5],[-32.5,-30.5,-29.5,-29],[-31,-31,-32.5,-29.5],[-30.5,-31,-30.5,-29.5],
[-32.5,-33.5,-33,-31.5],[-25,-24.5,-22.5,-23.5]
];
const band8Values = [
[-26,-25,-26.5,-25.5],[-27,-25,-27.5,-25.5],[-27,-24.5,-27.5,-25],[-27.5,-24.5,-28.5,-25],
[-28.5,-23,-29.5,-24],[-32,-23,-27.5,-24],[-32,-23,-27.5,-23.5],[-28,-22.5,-27,-23.5],
[-27,-22.5,-27.5,-23.5],[-26,-22.5,-27,-23.5],[-26,-22,-27,-23.5],[-25.5,-21.5,-26,-23.5],
[-25,-21.5,-25,-24],[-25,-21,-25,-24],[-24.5,-21.5,-25,-24],[-24.5,-22,-25.5,-24.5],
[-25,-22.5,-25.5,-25],[-25.5,-23,-25.5,-26],[-25.5,-24,-26,-28],[-26,-24,-26.5,-28],
[-26,-24,-26.5,-28],[-26,-24.5,-26.5,-29],[-26,-24.5,-26.5,-29],[-26,-24.5,-26.5,-29.5],
[-26,-24.5,-26.5,-28.5],[-27,-26,-27.5,-29],[-27,-26.5,-27.5,-33.5],[-27.5,-27,-28,-31.5],
[-29.5,-29,-30.5,-33],[-25.5,-25.5,-25.5,-25]
];
const band9Values = [
[-26.5,-26.5,-26.5,-31.5],[-26,-25.5,-25.5,-31.5],[-25.5,-25.5,-25.5,-30.5],[-25.5,-25.5,-25.5,-29.5],
[-24,-24,-24,-28],[-24,-24,-24,-27],[-24,-24,-24,-27],[-24,-24,-24,-26.5],
[-24,-25,-25,-26.5],[-24,-25,-25.5,-26.5],[-24,-25,-26,-26.5],[-24,-26,-25.5,-26],
[-23.5,-25,-25,-26],[-23.5,-25,-25,-25.5],[-23.5,-24.5,-24.5,-25.5],[-24,-24.5,-24.5,-25.5],
[-25,-25,-25,-26],[-26,-25.5,-26,-26.5],[-27,-26,-26.5,-28],[-28.5,-26.5,-27,-28.5],
[-29,-27,-27,-28.5],[-29,-27,-27,-28],[-28.5,-27,-27,-28],[-28,-27.5,-27,-27.5],
[-29,-30,-27,-27.5],[-31,-33,-28,-30],[-31,-32.5,-28.5,-30.5],[-31,-31.5,-28,-30],
[-33,-33,-31,-31.5],[-24.5,-25,-25,-26.5]
];
const band10Values = [
[-24.5,-27,-25.5,-23.5,-30.5,-29,-28,-31.5,-30.5,-24],[-24,-26.5,-25.5,-23.5,-30,-28.5,-27,-27,-29.5,-24],
[-24,-26,-25.5,-23,-30,-28,-26.5,-26.5,-28.5,-24],[-24,-26,-25.5,-23,-29,-28,-26.5,-26.5,-28,-24],
[-23,-24.5,-25,-22,-27,-27,-25,-25,-26.5,-22.5],[-22.5,-24.5,-25,-22,-28,-28.5,-25,-25,-26,-22.5],
[-22.5,-24.5,-25,-22,-26.5,-26.5,-25,-25,-26,-22.5],[-22.5,-24.5,-25,-22,-26.5,-26,-25,-25,-26,-22.5],
[-22.5,-24.5,-26,-22,-26,-25.5,-25,-25.5,-26,-22],[-22.5,-24.5,-26,-22,-26,-25,-24.5,-25.5,-26,-22],
[-22.5,-24.5,-25.5,-22,-26,-25,-24.5,-25.5,-26,-22],[-22,-24,-25.5,-22,-26,-25,-24,-25,-26,-22],
[-22,-24,-26,-21.5,-25.5,-25,-23.5,-25,-26,-21.5],[-22,-24,-27,-22,-25.5,-24.5,-23.5,-25,-26,-21.5],
[-22,-24,-26.5,-22.5,-25.5,-24.5,-23.5,-25,-26,-22],[-22,-24,-27,-23,-25.5,-24.5,-24,-25,-26,-22.5],
[-23,-24.5,-27,-24,-25.5,-25,-24.5,-25.5,-26,-24],[-24,-25,-27,-25,-26,-26,-25,-26,-26.5,-25],
[-25,-25.5,-27.5,-26,-26.5,-26.5,-26,-27,-27,-25.5],[-25,-26,-28,-26.5,-26.5,-27,-27,-27,-27,-26],
[-25.5,-26,-28.5,-27,-26.5,-27,-28,-27.5,-27.5,-26],[-26,-26.5,-28.5,-27,-26.5,-27.5,-29,-27.5,-27.5,-26],
[-26,-26.5,-28.5,-27.5,-26.5,-28,-31,-27.5,-27.5,-26],[-26,-26.5,-28,-27.5,-26.5,-28,-30.5,-27.5,-27.5,-26],
[-26,-26.5,-28,-27.5,-26.5,-28,-30.5,-27.5,-27.5,-26],[-27.5,-27.5,-29,-29,-27.5,-29,-33.5,-30,-28.5,-27],
[-28,-28,-29.5,-29.5,-28,-29.5,-31,-31,-29,-27.5],[-28.5,-28.5,-29.5,-29.5,-28.5,-30,-31.5,-31.5,-30,-28],
[-30.5,-30.5,-31,-31,-30.5,-31.5,-33,-33,-31.5,-30],[-26,-26.5,-21,-25.5,-23.5,-27,-23.5,-23.5,-24,-23]
];

// ---------- narrow features: window, first cell, top and bottom log10 hPa, value ----------
const narrowFeatureWindow = [0,0,0,0,0,0,0,0,0,0,0,0,6,6,6,6,6,6,6,6,6,6,6,6,6,6,6,6,6,6,6,7,7,7,7,7,7,7,7,7,7,8,8,8,8,8,9,9,9,9,9];
const narrowFeatureStart = [10,13,14,5,4,0,1,1.6,2.1,16,14,17,2,1,1,0,3,1,2,2,2,2,2,2,2,2,2,2,2,1,1,2,2,3,3,3,3,3,3,3,3,1,2,1,1,1,2,4,6,6,6,6];
const narrowFeatureTop = [1.255,1.633,1.585,-0.2625,-0.646,0.208,0.836,0.918,1,2.153,2.2,2.4,0.666,0.712,0.836,1.211,1.211,0.712,0.712,0.918,1.507,2.107,2.199,2.245,2.291,2.336,2.474,2.526,2.575,2.667,2.902,0.712,0.836,1.932,2.015,2.107,2.199,2.575,2.627,2.85,2.902,1.082,1,2.667,2.716,2.85,0.208,1.255,2.428,2.53,2.8,2.85];
const narrowFeatureBottom = [1.294,1.677,1.63,-0.008,-0.2625,0.334,0.918,0.98,1.05,2.3,2.35,2.5,0.707,0.836,0.918,1.255,1.255,0.836,0.836,0.959,1.548,2.199,2.245,2.291,2.336,2.474,2.526,2.575,2.667,2.716,2.948,0.836,0.918,2.015,2.107,2.199,2.526,2.627,2.667,2.902,2.994,1.129,1.047,2.716,2.801,2.902,0.334,1.3,2.53,2.6,2.85,2.9];
const narrowFeatureValue = [-25,-25.5,-25,-26,-26,-25,-25,-25,-25,-24,-24,-24,-33,-29,-30.5,-30.5,-30.5,-29,-29,-29,-33.5,-29,-30,-31,-33.5,-31.5,-34,-31,-29.5,-31,-37,-29.5,-31,-29.5,-30,-32,-30,-32,-30.5,-34,-31.5,-30,-30,-31,-32,-32.5,-29,-28.5,-29,-33,-34,-31];

// ---------- chart construction ----------
const svg = document.getElementById('fig');
const NS = 'http://www.w3.org/2000/svg';

function segment(points, t) {
  for (let i = 1; i < points.length; i++) {
    if (t <= points[i][0]) {
      const a = points[i - 1], b = points[i];
      return a[1] + (t - a[0]) * (b[1] - a[1]) / (b[0] - a[0]);
    }
  }
  return points[points.length - 1][1];
}
function jet(t) {
  t = Math.max(0, Math.min(1, t));
  const red = segment([[0,0],[0.35,0],[0.66,1],[0.89,1],[1,0.5]], t);
  const green = segment([[0,0],[0.125,0],[0.375,1],[0.64,1],[0.91,0],[1,0]], t);
  const blue = segment([[0,0.5],[0.11,1],[0.34,1],[0.65,0],[1,0]], t);
  return 'rgb(' + Math.round(255 * red) + ',' + Math.round(255 * green) + ',' + Math.round(255 * blue) + ')';
}
function make(tag, attrs) {
  const el = document.createElementNS(NS, tag);
  for (const k in attrs) el.setAttribute(k, attrs[k]);
  return el;
}
function linear(d0, d1, r0, r1) {
  return v => r0 + (v - d0) * (r1 - r0) / (d1 - d0);
}
function pressureAxis(anchorPixels) {
  return logP => {
    let i = Math.floor(logP + 1);
    i = Math.max(0, Math.min(3, i));
    return anchorPixels[i] + (logP - (i - 1)) * (anchorPixels[i + 1] - anchorPixels[i]);
  };
}
const yTropomi = pressureAxis([35.7, 136.2, 305.8, 473.2, 609.4]);
const yCris = pressureAxis([732, 856, 1044, 1232, 1401]);

function drawCells(group, values, edges, xLeft, xRight, yAxis, colorOf, namePrefix) {
  values.forEach((row, r) => {
    const cellWidth = (xRight - xLeft) / row.length;
    row.forEach((value, c) => {
      const x0 = xLeft + c * cellWidth;
      const y0 = yAxis(edges[r]);
      const y1 = yAxis(edges[r + 1]);
      const cell = make('rect', {x: x0, y: y0, width: cellWidth + 0.4, height: y1 - y0 + 0.4, fill: colorOf(value)});
      
      
      group.appendChild(cell);
    });
  });
}

function addSmoothing(groupId, filterId, clipId, name) {
  const holder = make('g', {'clip-path': 'url(#' + clipId + ')'});
  
  
  const clone = make('use', {href: '#' + groupId, filter: 'url(#' + filterId + ')'});
  holder.appendChild(clone);
  svg.appendChild(holder);
}

function drawText(str, x, y, size, anchor, name, sup) {
  const t = make('text', {x: x, y: y, 'font-size': size, 'text-anchor': anchor});
  t.textContent = str;
  if (sup !== undefined) {
    const s = make('tspan', {dy: -size * 0.4, 'font-size': size * 0.66});
    s.textContent = sup;
    t.appendChild(s);
  }
  
  
  svg.appendChild(t);
}

function drawColorbar(x0, x1, y0, y1, vMin, vMax, ticks, name, tickStart, tickEnd, labelX, fontSize) {
  const yOf = linear(vMax, vMin, y0, y1);
  const gradId = name + '-gradient';
  const grad = make('linearGradient', {id: gradId, x1: 0, y1: 1, x2: 0, y2: 0});
  for (let i = 0; i <= 64; i++) {
    grad.appendChild(make('stop', {offset: (i / 64), 'stop-color': jet(i / 64)}));
  }
  const defs = make('defs', {});
  defs.appendChild(grad);
  svg.appendChild(defs);
  const bar = make('rect', {x: x0, y: y0, width: x1 - x0, height: y1 - y0, fill: 'url(#' + gradId + ')'});
  
  
  svg.appendChild(bar);
  ticks.forEach(v => {
    const mark = make('line', {x1: tickStart, x2: tickEnd, y1: yOf(v), y2: yOf(v), stroke: '#444', 'stroke-width': 1.2});
    
    
    svg.appendChild(mark);
    drawText('\u2212' + Math.abs(v), labelX, yOf(v) + fontSize * 0.36, fontSize, 'start', name + '-tick-label');
  });
}

// TROPOMI panel
const tropomiColor = v => jet((v + 9.49) / (9.49 - 2.6));
const tropomiGroup = make('g', {'shape-rendering': 'crispEdges', id: 'tropomiCells'});


svg.appendChild(tropomiGroup);
drawCells(tropomiGroup, tropomiValues, tropomiLayerEdges, 721, 1347, yTropomi, tropomiColor, 'tropomi');
addSmoothing('tropomiCells', 'smoothWide', 'clipTropomi', 'tropomi-heatmap-smoothing');
addSmoothing('tropomiCells', 'smoothBoth', 'clipTropomiFine', 'tropomi-heatmap-fine-smoothing');
const xTropomi = linear(325, 335, 719, 1349);
tropomiWavelengthTicks.forEach(v => {
  drawText(String(v), xTropomi(v), 661, 20.5, 'middle', 'tropomi-x-tick-label');
});
pressureTickExponents.forEach(e => {
  drawText('10', 673, yTropomi(e) + 8, 21, 'start', 'tropomi-y-tick-label', String(e));
});
drawColorbar(1364, 1387.5, 25.4, 634, -9.49, -2.6, tropomiColorbarTicks, 'tropomi-colorbar', 1390, 1396, 1400, 19.5);

// CRIS panels
const crisColor = v => jet((v + 37.2) / (37.2 - 12.9));
const crisBands = [
  {values: band1Values, ticks: band1Ticks, x0: 66.4, x1: 598, d0: 950, d1: 1031.2},
  {values: band2Values, ticks: band2Ticks, x0: 630.6, x1: 735, d0: 1043, d1: 1048.8},
  {values: band3Values, ticks: band3Ticks, x0: 765.4, x1: 871, d0: 1069, d1: 1088.7},
  {values: band4Values, ticks: band4Ticks, x0: 902, x1: 1008, d0: 1094.38, d1: 1095},
  {values: band5Values, ticks: band5Ticks, x0: 1038, x1: 1144, d0: 1211.3, d1: 1214.97},
  {values: band6Values, ticks: band6Ticks, x0: 1174, x1: 1280, d0: 1223.75, d1: 1227.5},
  {values: band7Values, ticks: band7Ticks, x0: 1310.5, x1: 1417, d0: 1258.74, d1: 1261.25},
  {values: band8Values, ticks: band8Ticks, x0: 1447, x1: 1553, d0: 1265, d1: 1267.5},
  {values: band9Values, ticks: band9Ticks, x0: 1584, x1: 1689, d0: 1268.8, d1: 1271.25},
  {values: band10Values, ticks: band10Ticks, x0: 1723, x1: 1826, d0: 1311.2, d1: 1317.5}
];
crisBands.forEach((b, i) => {
  const g = make('g', {'shape-rendering': 'crispEdges', id: 'crisCells' + i});
  
  
  svg.appendChild(g);
  drawCells(g, b.values, crisLayerEdges, b.x0, b.x1, yCris, crisColor, 'cris-window-' + (i + 1));
  addSmoothing('crisCells' + i, 'smoothTall', 'clipCrisFine', 'cris-window-' + (i + 1) + '-smoothing');
  const xAxis = linear(b.d0, b.d1, b.x0, b.x1);
  b.ticks.forEach(v => {
    const label = i === 3 ? v.toFixed(1) : String(v);
    drawText(label, xAxis(v), 1433, 14.5, 'middle', 'cris-x-tick-label');
  });
});
const featureGroup = make('g', {'shape-rendering': 'crispEdges'});


svg.appendChild(featureGroup);
narrowFeatureWindow.forEach((w, i) => {
  const b = crisBands[w];
  const cellWidth = (b.x1 - b.x0) / b.values[0].length;
  const fleck = w === 0;
  const x = b.x0 + narrowFeatureStart[i] * cellWidth;
  const y0 = yCris(narrowFeatureTop[i]);
  const y1 = yCris(narrowFeatureBottom[i]);
  const cell = make('rect', {x: x, y: y0, width: fleck ? cellWidth * 0.45 : cellWidth, height: y1 - y0, fill: crisColor(narrowFeatureValue[i])});
  
  
  featureGroup.appendChild(cell);
});
pressureTickExponents.forEach(e => {
  drawText('10', 28, yCris(e) + 7, 20, 'start', 'cris-y-tick-label', String(e));
});
drawColorbar(1833.5, 1878, 729, 1415, -37.2, -12.9, crisColorbarTicks, 'cris-colorbar', 1879, 1884, 1885.5, 17.5);
</script>
</body>
</html>
